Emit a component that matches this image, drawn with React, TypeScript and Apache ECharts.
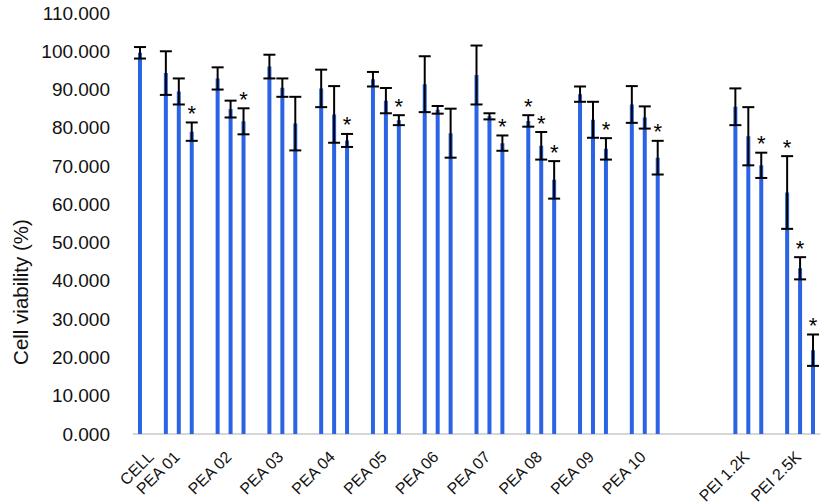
import React, { useEffect, useRef } from "react";
import * as echarts from "echarts";

// ---- data ----
const groupNames = [
  "CELL", "PEA 01", "PEA 02", "PEA 03", "PEA 04", "PEA 05", "PEA 06",
  "PEA 07", "PEA 08", "PEA 09", "PEA 10", "PEI 1.2K", "PEI 2.5K",
];
const viability = [
  [99.6],
  [94.3, 89.5, 79.0],
  [92.9, 84.9, 81.7],
  [96.0, 90.5, 81.1],
  [90.3, 83.5, 76.7],
  [92.7, 87.1, 82.0],
  [91.4, 84.7, 78.6],
  [93.8, 83.0, 76.0],
  [81.8, 75.3, 66.4],
  [88.8, 82.1, 74.5],
  [86.1, 82.7, 72.2],
  [85.5, 77.8, 70.2],
  [63.1, 43.3, 21.9],
];
const errorSD = [
  [1.5],
  [5.7, 3.4, 2.4],
  [2.9, 2.2, 3.4],
  [3.1, 2.4, 7.0],
  [4.9, 7.4, 1.7],
  [1.9, 3.3, 1.3],
  [7.3, 1.0, 6.4],
  [7.7, 0.8, 2.0],
  [1.5, 3.6, 4.9],
  [2.0, 4.7, 2.8],
  [4.8, 2.9, 4.4],
  [4.8, 7.6, 3.3],
  [9.5, 2.9, 4.1],
];
const significant = [
  [false],
  [false, false, true],
  [false, false, true],
  [false, false, false],
  [false, false, true],
  [false, false, true],
  [false, false, false],
  [false, false, true],
  [true, true, true],
  [false, false, true],
  [false, false, true],
  [false, false, true],
  [true, true, true],
];
const yTicks = { min: 0, max: 110, interval: 10 };
// empty category slots placed before each group (layout)
const emptySlotsBefore = [0, 1, 1, 1, 1, 1, 1, 1, 1, 1, 1, 5, 1];

const FONT = "'Liberation Sans', Arial, Helvetica, sans-serif";

export default function App() {
  const ref = useRef<HTMLDivElement>(null);

  useEffect(() => {
    if (!ref.current) return;
    const chart = echarts.init(ref.current, undefined, { renderer: "svg" });

    const slotCount = { n: 0 };
    const barData: (number | null)[] = [];
    const errData: number[][] = [];
    const labelData: number[][] = [];
    groupNames.forEach((_name, g) => {
      for (let k = 0; k < emptySlotsBefore[g]; k++) {
        barData.push(null);
        slotCount.n++;
      }
      labelData.push([slotCount.n, 0]);
      viability[g].forEach((v, j) => {
        const idx = slotCount.n;
        barData.push(v);
        errData.push([idx, v, errorSD[g][j], significant[g][j] ? 1 : 0]);
        slotCount.n++;
      });
    });
    const categories = barData.map((_, i) => "s" + i);

    chart.setOption({
      animation: false,
      backgroundColor: "#ffffff",
      grid: {
        left: 133.5,
        right: 6.5,
        top: 13,
        bottom: 70,
        containLabel: false,
        outerBoundsMode: "none",
      },
      xAxis: {
        type: "category",
        data: categories,
        boundaryGap: true,
        axisLine: { show: true, lineStyle: { color: "#d6d6d6", width: 2 } },
        axisTick: { show: false },
        axisLabel: { show: false },
        splitLine: { show: false },
      },
      yAxis: {
        type: "value",
        min: yTicks.min,
        max: yTicks.max,
        interval: yTicks.interval,
        axisLine: { show: false },
        axisTick: { show: false },
        splitLine: { show: false },
        axisLabel: {
          margin: 23.5,
          fontSize: 19,
          fontFamily: FONT,
          color: "#111",
          formatter: (v: number) => v.toFixed(3),
        },
      },
      series: [
        {
          type: "bar",
          data: barData,
          barWidth: 4,
          itemStyle: { color: "#2a64e4" },
          z: 2,
        },
        {
          type: "custom",
          data: errData,
          z: 3,
          clip: false,
          renderItem: (_params: any, api: any) => {
            const x = api.value(0);
            const m = api.value(1);
            const e = api.value(2);
            const s = api.value(3);
            const top = api.coord([x, m + e]);
            const bot = api.coord([x, m - e]);
            const hw = 6;
            const st = { stroke: "#000", lineWidth: 2 };
            const children: any[] = [
              { type: "line", shape: { x1: top[0], y1: top[1], x2: bot[0], y2: bot[1] }, style: st },
              { type: "line", shape: { x1: top[0] - hw, y1: top[1], x2: top[0] + hw, y2: top[1] }, style: st },
              { type: "line", shape: { x1: bot[0] - hw, y1: bot[1], x2: bot[0] + hw, y2: bot[1] }, style: st },
            ];
            if (s) {
              children.push({
                type: "text",
                x: top[0],
                y: top[1] - 9,
                style: {
                  text: "*",
                  fontSize: 22,
                  fontFamily: FONT,
                  fill: "#000",
                  align: "center",
                  verticalAlign: "middle",
                },
              });
            }
            return { type: "group", children };
          },
        },
        {
          type: "custom",
          data: labelData,
          z: 4,
          clip: false,
          silent: true,
          renderItem: (params: any, api: any) => {
            const p = api.coord([api.value(0), 0]);
            return {
              type: "text",
              x: p[0] + 11,
              y: p[1] + 20,
              rotation: Math.PI / 4,
              style: {
                text: groupNames[params.dataIndex],
                fontSize: 16,
                fontFamily: FONT,
                fill: "#111",
                align: "right",
                verticalAlign: "middle",
              },
            };
          },
        },
      ],
      graphic: [
        {
          type: "text",
          x: 20,
          y: 292,
          rotation: Math.PI / 2,
          style: {
            text: "Cell viability (%)",
            fontSize: 20.5,
            fontFamily: FONT,
            fill: "#111",
            align: "center",
            verticalAlign: "middle",
          },
        },
      ],
    });

    return () => chart.dispose();
  }, []);

  return <div ref={ref} style={{ width: 826, height: 504, position: "absolute", left: 0, top: 0 }} />;
}
